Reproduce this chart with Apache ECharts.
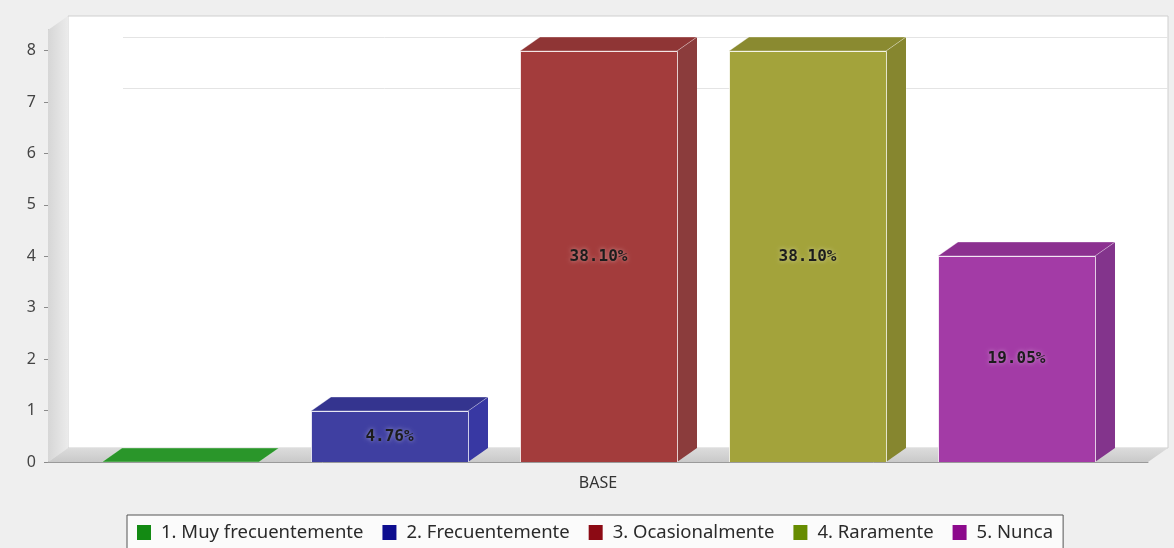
<!DOCTYPE html>
<html>
<head>
<meta charset="utf-8">
<script src="https://cdn.jsdelivr.net/npm/echarts@6/dist/echarts.min.js"></script>
<style>
  html, body { margin: 0; padding: 0; background: #efefef; }
  #chart { width: 1174px; height: 548px; }
</style>
</head>
<body>
<div id="chart"></div>
<script>
// Chart data
const categories = ['BASE'];
const seriesNames = ['1. Muy frecuentemente', '2. Frecuentemente', '3. Ocasionalmente', '4. Raramente', '5. Nunca'];
const seriesValues = [0, 1, 8, 8, 4];
const yTicks = [0, 1, 2, 3, 4, 5, 6, 7, 8];
const gridLevels = [7, 8];        // back-wall gridlines that are drawn

// Colours: legend swatches and the three visible faces of each 3D bar
const legendColors = ['#138a13', '#0d0d8f', '#8c0a14', '#668c00', '#8c098c'];
const frontColors  = ['#2c9c2c', '#3f3fa1', '#a33c3c', '#a3a33b', '#a33ba6'];
const topColors    = ['#2a962a', '#34348f', '#8f3535', '#8a8a30', '#8c3090'];
const sideColors   = ['#258a25', '#3838a3', '#8b3c3c', '#86862f', '#83348c'];

const DX = 20, DY = 14;           // 3D depth offset
const BAR_FRAC = 0.1427, GAP_FRAC = 0.0473;
const total = seriesValues.reduce((a, b) => a + b, 0);

const chart = echarts.init(document.getElementById('chart'));

// Plot walls, floor and back gridlines
function renderFrame(params, api) {
  const cs = params.coordSys;
  const yb = cs.y + cs.height;
  const children = [];
  children.push({
    type: 'rect', z2: 0,
    shape: { x: cs.x + DX, y: cs.y - DY, width: cs.width, height: cs.height },
    style: { fill: '#ffffff', stroke: '#cfcfcf', lineWidth: 1 }
  });
  gridLevels.forEach(t => {
    const y = Math.round(api.coord([0, t])[1] - DY) + 0.5;
    children.push({
      type: 'line', z2: 1,
      shape: { x1: cs.x + DX + 55, y1: y, x2: cs.x + cs.width + DX, y2: y },
      style: { stroke: '#e4e4e4', lineWidth: 1 }
    });
  });
  children.push({
    type: 'polygon', z2: 2,
    shape: { points: [[cs.x, cs.y], [cs.x + DX, cs.y - DY], [cs.x + DX, yb - DY], [cs.x, yb]] },
    style: {
      fill: new echarts.graphic.LinearGradient(0, 0, 1, 0, [
        { offset: 0, color: '#d6d6d6' }, { offset: 1, color: '#ebebeb' }
      ])
    }
  });
  children.push({
    type: 'polygon', z2: 2,
    shape: { points: [[cs.x, yb], [cs.x + DX, yb - DY], [cs.x + cs.width + DX, yb - DY], [cs.x + cs.width, yb]] },
    style: {
      fill: new echarts.graphic.LinearGradient(0, 0, 0, 1, [
        { offset: 0, color: '#dcdcdc' }, { offset: 1, color: '#c9c9c9' }
      ])
    }
  });
  return { type: 'group', children };
}

// One 3D bar per series, placed side by side inside the category band
function makeBarRenderer(idx) {
  return function (params, api) {
    const cat = api.value(0);
    const val = api.value(1);
    const base = api.coord([cat, 0]);
    const top = api.coord([cat, val]);
    const band = api.size([1, 0])[0];
    const bw = band * BAR_FRAC, gap = band * GAP_FRAC;
    const groupW = seriesValues.length * bw + (seriesValues.length - 1) * gap;
    const x0 = Math.round(base[0] - groupW / 2 + idx * (bw + gap));
    const x1 = Math.round(x0 + bw);
    const yb = base[1], yt = Math.round(top[1]);
    const children = [
      {
        type: 'polygon',
        shape: { points: [[x1, yt], [x1 + DX, yt - DY], [x1 + DX, yb - DY], [x1, yb]] },
        style: { fill: sideColors[idx] }
      },
      {
        type: 'polygon',
        shape: { points: [[x0, yt], [x0 + DX, yt - DY], [x1 + DX, yt - DY], [x1, yt]] },
        style: { fill: topColors[idx], stroke: 'rgba(255,255,255,0.35)', lineWidth: 1 }
      }
    ];
    if (val > 0) {
      children.push({
        type: 'rect',
        shape: { x: x0 + 0.5, y: yt + 0.5, width: x1 - x0, height: yb - yt },
        style: { fill: frontColors[idx], stroke: 'rgba(255,255,255,0.75)', lineWidth: 1 }
      });
      children.push({
        type: 'text',
        style: {
          x: (x0 + x1) / 2, y: (yt + yb) / 2,
          text: (val / total * 100).toFixed(2) + '%',
          align: 'center', verticalAlign: 'middle',
          font: 'bold 16px "DejaVu Sans Mono", monospace',
          fill: '#1c1c1c',
          textShadowColor: 'rgba(255,255,255,0.45)', textShadowBlur: 4
        }
      });
    }
    return { type: 'group', children };
  };
}

const series = [{
  type: 'custom',
  name: 'frame',
  renderItem: renderFrame,
  data: [[0, 0]],
  silent: true,
  z: 1
}];
seriesNames.forEach((name, i) => {
  series.push({
    type: 'custom',
    name: name,
    renderItem: makeBarRenderer(i),
    itemStyle: { color: legendColors[i] },
    data: [[0, seriesValues[i]]],
    z: 2
  });
});

chart.setOption({
  backgroundColor: '#efefef',
  animation: false,
  grid: { left: 48, right: 26, top: 30, bottom: 86 },
  xAxis: {
    type: 'category',
    data: categories,
    axisLine: { show: true, lineStyle: { color: '#9a9a9a' } },
    axisTick: { show: false },
    axisLabel: { margin: 13, color: '#333', fontSize: 16, fontFamily: 'Noto Sans' },
    z: 5
  },
  yAxis: {
    type: 'value',
    min: 0, max: 8.4, interval: 1,
    axisLine: { show: true, lineStyle: { color: '#9a9a9a' } },
    axisTick: { show: true, length: 4, customValues: yTicks, lineStyle: { color: '#8a8a8a' } },
    axisLabel: { customValues: yTicks, margin: 12, color: '#444', fontSize: 16, fontFamily: 'Noto Sans' },
    splitLine: { show: false }
  },
  legend: {
    data: seriesNames,
    left: 127, top: 515,
    icon: 'rect',
    itemWidth: 14, itemHeight: 15, itemGap: 19,
    padding: [8, 10, 8, 10],
    borderColor: '#555', borderWidth: 1, borderRadius: 0,
    backgroundColor: '#fbfbfb',
    textStyle: { fontSize: 18.5, fontFamily: 'Noto Sans', color: '#2a2a2a', padding: [0, 0, 0, 5] }
  },
  series: series
});
</script>
</body>
</html>
